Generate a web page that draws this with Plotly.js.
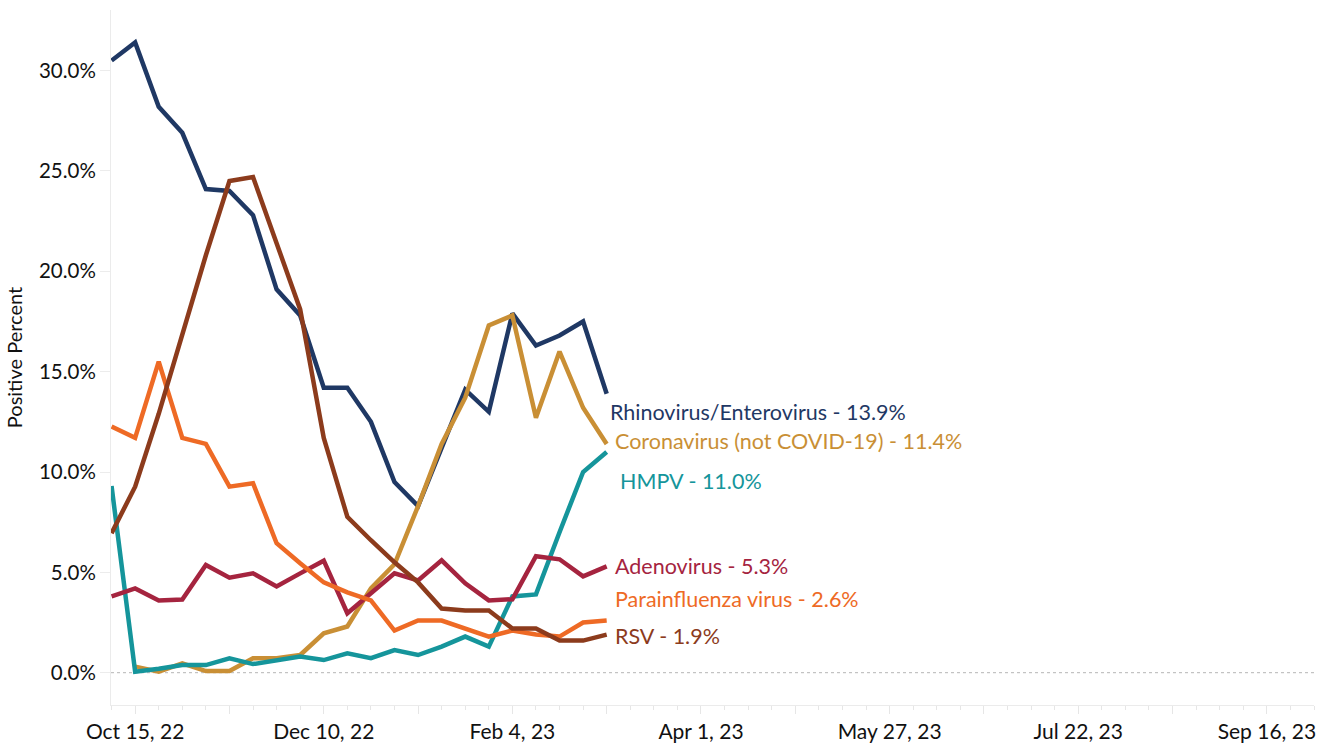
<!DOCTYPE html>
<html>
<head>
<meta charset="utf-8">
<script src="https://cdn.plot.ly/plotly-3.0.1.min.js"></script>
<style>html,body{margin:0;padding:0;background:#fff;}#chart{width:1323px;height:744px;}</style>
</head>
<body>
<div id="chart"></div>
<script>
// Weekly dates (week starting)
const weeks = ['2022-10-08','2022-10-15','2022-10-22','2022-10-29','2022-11-05','2022-11-12','2022-11-19','2022-11-26',
  '2022-12-03','2022-12-10','2022-12-17','2022-12-24','2022-12-31','2023-01-07','2023-01-14','2023-01-21',
  '2023-01-28','2023-02-04','2023-02-11','2023-02-18','2023-02-25','2023-03-04'];

const rhinoEntero = [30.5,31.4,28.2,26.9,24.1,24.0,22.8,19.1,17.8,14.2,14.2,12.5,9.5,8.3,11.2,14.1,13.0,17.9,16.3,16.8,17.5,13.9];
const coronavirus = [null,0.3,0.05,0.47,0.08,0.08,0.72,0.72,0.88,1.96,2.3,4.2,5.4,8.3,11.4,13.7,17.3,17.8,12.7,16.0,13.2,11.4];
const hmpv        = [9.3,0.05,0.2,0.38,0.38,0.72,0.43,0.63,0.8,0.63,0.97,0.72,1.13,0.88,1.3,1.8,1.3,3.8,3.9,7.0,10.0,11.0];
const adenovirus  = [3.8,4.2,3.6,3.65,5.37,4.73,4.95,4.3,4.95,5.58,2.96,3.96,4.95,4.6,5.6,4.45,3.6,3.66,5.8,5.65,4.8,5.3];
const parainfluenza = [12.26,11.7,15.5,11.7,11.4,9.27,9.44,6.45,5.45,4.5,4.0,3.6,2.1,2.6,2.6,2.2,1.8,2.1,1.9,1.8,2.5,2.6];
const rsv         = [6.95,9.27,12.9,16.8,20.8,24.5,24.7,21.4,18.1,11.7,7.77,6.6,5.5,4.5,3.2,3.1,3.1,2.2,2.2,1.6,1.6,1.9];

const seriesNames = ['Rhinovirus/Enterovirus','Coronavirus (not COVID-19)','HMPV','Adenovirus','Parainfluenza virus','RSV'];
const seriesValues = [rhinoEntero, coronavirus, hmpv, adenovirus, parainfluenza, rsv];
const seriesColors = ['#1f3864','#c98f35','#15959b','#a5243f','#ee6a25','#8c3b1c'];
const labelShift = [[1,-18],[6,3],[11,-29],[6,0],[6,22],[6,-1]];

const tickDates  = ['2022-10-15','2022-11-12','2022-12-10','2023-01-07','2023-02-04','2023-03-04','2023-04-01',
  '2023-04-29','2023-05-27','2023-06-24','2023-07-22','2023-08-19','2023-09-16'];
const tickLabels = ['Oct 15, 22','','Dec 10, 22','','Feb 4, 23','','Apr 1, 23','','May 27, 23','','Jul 22, 23','','Sep 16, 23'];
const yTicks = [0,5,10,15,20,25,30];
const yTickLabels = yTicks.map(v => v.toFixed(1) + '%');

const FONT = 'Lato, "Open Sans", sans-serif';

const traces = seriesNames.map((name, k) => ({
  x: weeks, y: seriesValues[k], type: 'scatter', mode: 'lines', name: name,
  line: {color: seriesColors[k], width: 4.5, shape: 'linear'},
  connectgaps: false, hoverinfo: 'skip'
}));

const annotations = seriesNames.map((name, k) => {
  const vals = seriesValues[k];
  const last = vals[vals.length - 1];
  return {
    x: weeks[weeks.length - 1], y: last, xref: 'x', yref: 'y',
    text: name + ' - ' + last.toFixed(1) + '%',
    showarrow: false, xanchor: 'left', yanchor: 'middle',
    xshift: labelShift[k][0], yshift: labelShift[k][1],
    font: {family: FONT, size: 21.5, color: seriesColors[k]}
  };
});

const layout = {
  width: 1323, height: 744,
  margin: {l: 111, r: 9, t: 10, b: 39},
  paper_bgcolor: '#fff', plot_bgcolor: '#fff',
  showlegend: false,
  font: {family: FONT, size: 20, color: '#222'},
  xaxis: {
    type: 'date',
    range: ['2022-10-07 20:00', '2023-09-30'],
    tickmode: 'array', tickvals: tickDates, ticktext: tickLabels,
    ticks: 'outside', ticklen: 8, tickcolor: '#e6e6e6', tickwidth: 1,
    minor: {tick0: '2022-10-08', dtick: 604800000, ticks: 'outside', ticklen: 4, tickcolor: '#e6e6e6', showgrid: false},
    showline: true, linecolor: '#ebebeb', linewidth: 1,
    showgrid: false, zeroline: false,
    tickfont: {family: FONT, size: 21, color: '#111'}
  },
  yaxis: {
    range: [-1.61, 33.02],
    tickmode: 'array', tickvals: yTicks, ticktext: yTickLabels,
    ticks: 'outside', ticklen: 10, tickcolor: '#ececec', tickwidth: 1,
    showline: true, linecolor: '#ebebeb', linewidth: 1,
    showgrid: false, zeroline: false,
    tickfont: {family: FONT, size: 20.5, color: '#111'},
    title: {text: 'Positive Percent', font: {family: FONT, size: 20, color: '#111'}, standoff: 10}
  },
  shapes: [{
    type: 'line', xref: 'paper', yref: 'y', x0: 0, x1: 1, y0: 0, y1: 0,
    line: {color: '#b5b5b5', width: 1, dash: 'dot'}, layer: 'below'
  }],
  annotations: annotations
};

Plotly.newPlot('chart', traces, layout, {displayModeBar: false, staticPlot: true});
</script>
</body>
</html>
